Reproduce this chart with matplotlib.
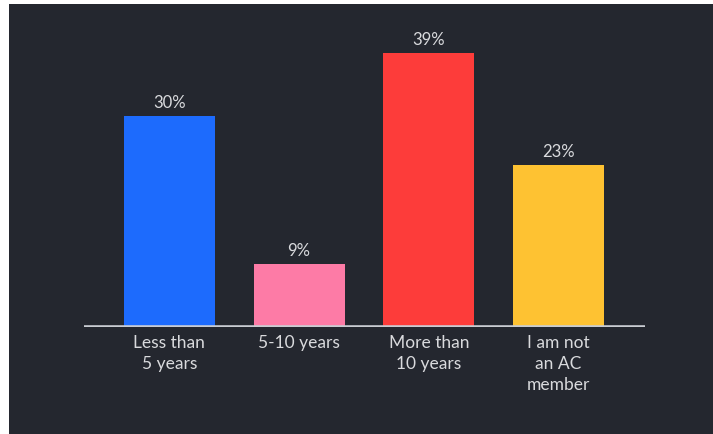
import matplotlib
matplotlib.use("Agg")
import matplotlib.pyplot as plt
from matplotlib.patches import Rectangle

categories = ["Less than\n5 years", "5-10 years", "More than\n10 years", "I am not\nan AC\nmember"]
values = [30, 9, 39, 23]
value_labels = ["30%", "9%", "39%", "23%"]
colors = ["#1d6bfd", "#fd7ba6", "#fd3c3a", "#fec232"]

BG = "#24272f"
TEXT = "#d9dadd"

fig = plt.figure(figsize=(7.13, 4.34), dpi=100)
fig.patch.set_facecolor("white")
fig.patches.append(Rectangle((9 / 713, 0), 1 - 9 / 713, 1 - 4 / 434,
                             transform=fig.transFigure, facecolor=BG,
                             edgecolor="none", zorder=-1))

ax = fig.add_axes([84 / 713, (434 - 327) / 434, 561 / 713, 320 / 434])
ax.set_facecolor("none")
x = list(range(len(categories)))
bars = ax.bar(x, values, width=0.70, color=colors, zorder=2)
ax.set_xlim(-0.658, 3.666)
ax.set_ylim(0, 320 / 7.03)
ax.axhline(0, color="#c9ccd2", linewidth=2.6, zorder=3)

for rect, lab in zip(bars, value_labels):
    ax.annotate(lab, (rect.get_x() + rect.get_width() / 2, rect.get_height()),
                xytext=(0, 3.5), textcoords="offset points", ha="center", va="bottom",
                fontsize=12, color=TEXT, family="Lato")

ax.set_xticks(x)
ax.set_xticklabels(categories, fontsize=12.5, color=TEXT, family="Lato",
                   linespacing=1.38)
ax.tick_params(axis="x", length=0, pad=6)
ax.set_yticks([])
for s in ax.spines.values():
    s.set_visible(False)

fig.savefig("out.png", dpi=100, facecolor=fig.get_facecolor())
